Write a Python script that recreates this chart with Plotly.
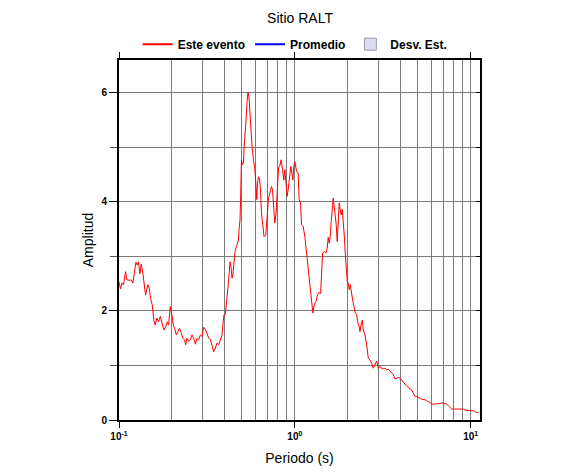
import plotly.graph_objects as go

# Este evento: period (s) and amplitude
periodo = [
    0.1, 0.102, 0.1037, 0.1061, 0.1089, 0.1108, 0.1148, 0.1173, 0.1199, 0.1226,
    0.1247, 0.127, 0.1292, 0.1314, 0.1338, 0.1367, 0.1397, 0.1416, 0.1459, 0.1486,
    0.1511, 0.1545, 0.1578, 0.1607, 0.1641, 0.1679, 0.1717, 0.1762, 0.18, 0.1841,
    0.1882, 0.1914, 0.1957, 0.1999, 0.2036, 0.2071, 0.2118, 0.2163,
    0.2211, 0.2261, 0.2309, 0.2361, 0.2393, 0.2434, 0.2489, 0.2545, 0.2599, 0.2658,
    0.2718, 0.2775, 0.2838, 0.2902, 0.2963, 0.303, 0.3098, 0.3164, 0.3236, 0.3309,
    0.3379, 0.3455, 0.3533, 0.3608, 0.369, 0.3772, 0.3853, 0.3904, 0.3956, 0.4028,
    0.4081, 0.4135, 0.419, 0.4245, 0.4278, 0.4335, 0.4392, 0.445, 0.4509, 0.4569,
    0.4654, 0.4715, 0.4778, 0.4815, 0.4879,
    0.4924, 0.497, 0.5035, 0.5102, 0.5142, 0.521, 0.5279, 0.5349, 0.5419, 0.5491,
    0.5563, 0.5636, 0.5711, 0.5817, 0.5917, 0.6018, 0.6074, 0.613, 0.6211, 0.6293,
    0.6376, 0.646, 0.6571, 0.6684, 0.6836, 0.6954, 0.7082, 0.7204, 0.7367, 0.7464,
    0.7563, 0.7692, 0.7824, 0.7969, 0.8074, 0.8213, 0.8354, 0.8509, 0.8656, 0.877,
    0.8886, 0.904, 0.9159, 0.9328, 0.9489, 0.9614, 0.9741, 0.9869, 1.0,
    1.0226, 1.0442, 1.058, 1.0777, 1.0919, 1.1151, 1.1402, 1.1598, 1.1813, 1.2017,
    1.2224, 1.2451, 1.2665, 1.2883, 1.3174, 1.3469, 1.3703, 1.401, 1.4196, 1.4384,
    1.469, 1.502, 1.5277, 1.5479, 1.5684, 1.5891, 1.6101, 1.6314, 1.653, 1.6748,
    1.697, 1.7194, 1.7421, 1.7651, 1.7885, 1.8121, 1.8361, 1.8603, 1.8849, 1.9098,
    1.9351, 1.9606, 1.9866, 2.0128, 2.0394, 2.0664, 2.0937, 2.1326, 2.1693, 2.2066,
    2.2476, 2.2856, 2.3249,
    2.3464, 2.3775, 2.4184, 2.4504, 2.5057, 2.562, 2.6167, 2.6758, 2.7359, 2.7943,
    2.8571, 2.9213, 2.9832, 3.0503, 3.1189, 3.185, 3.2566, 3.3298, 3.4004, 3.4769,
    3.555, 3.6304, 3.712, 3.7954, 3.8759, 3.9631, 4.0521, 4.138, 4.2311, 4.3262,
    4.4179, 4.5172, 4.6238, 4.7218, 4.8283, 4.9366, 5.0414, 5.1552, 5.2711, 5.3835,
    5.5046, 5.6283, 5.7477, 5.8774, 6.0102, 6.1379, 6.2761, 6.4176, 6.5541, 6.7021,
    6.8535, 6.9987, 7.1568, 7.3182, 7.4733, 7.6421, 7.8147, 7.9803, 8.1603, 8.3447,
    8.5215, 8.714, 8.9108, 9.0995, 9.305, 9.5152, 9.7168, 9.9363, 10.158, 10.375,
    10.607, 10.847, 11.077,
]
amplitud = [
    2.53, 2.40, 2.51, 2.48, 2.72, 2.57, 2.56, 2.57, 2.51, 2.69,
    2.89, 2.84, 2.90, 2.68, 2.86, 2.69, 2.48, 2.29, 2.48, 2.42,
    2.23, 2.11, 1.83, 1.74, 1.87, 1.80, 1.90, 1.77, 1.65, 1.71,
    1.80, 1.74, 2.08, 1.93, 1.74, 1.68, 1.56, 1.62,
    1.68, 1.59, 1.50, 1.47, 1.38, 1.50, 1.44, 1.47, 1.56, 1.50,
    1.39, 1.50, 1.47, 1.56, 1.53, 1.70, 1.66, 1.59, 1.50, 1.48,
    1.35, 1.25, 1.32, 1.41, 1.38, 1.47, 1.56, 1.77, 1.93, 1.94,
    2.11, 2.26, 2.51, 2.75, 2.90, 2.81, 2.60, 2.69, 2.94, 3.09,
    3.18, 3.24, 3.30, 3.49, 3.67,
    4.16, 4.77, 4.68, 4.71, 4.99, 5.20, 5.50, 5.84, 6.01, 5.90,
    5.57, 5.32, 5.01, 4.77, 4.62, 4.28, 4.04, 4.34, 4.46, 4.43,
    4.22, 3.79, 3.49, 3.36, 3.39, 3.67, 4.07, 4.16, 4.28, 4.22,
    3.91, 3.61, 3.79, 4.40, 4.62, 4.66, 4.77, 4.59, 4.40, 4.59,
    4.37, 4.10, 4.22, 4.40, 4.65, 4.53, 4.40, 4.65, 4.74,
    4.56, 4.53, 4.04, 3.98, 3.58, 3.55, 3.36, 3.12, 2.84, 2.63,
    2.39, 2.14, 1.96, 2.11, 2.17, 2.29, 2.34, 2.32, 2.63, 3.06,
    3.09, 3.06, 3.15, 3.35, 3.24, 3.36, 3.64, 3.85, 4.07, 3.91,
    3.76, 3.58, 3.27, 3.79, 3.98, 3.85, 3.76, 3.86, 3.67, 3.39,
    3.06, 2.75, 2.54, 2.51, 2.39, 2.48, 2.32, 2.20, 2.08, 1.96,
    1.93, 1.77, 1.71,
    1.62, 1.74, 1.83, 1.65, 1.56, 1.38, 1.13, 1.10, 1.04, 0.95,
    1.01, 1.08, 0.95, 0.98, 0.95, 0.94, 0.95, 0.92, 0.93, 0.90,
    0.86, 0.83, 0.75, 0.77, 0.78, 0.77, 0.73, 0.68, 0.65, 0.62,
    0.60, 0.58, 0.55, 0.49, 0.43, 0.43, 0.42, 0.40, 0.38, 0.38,
    0.37, 0.35, 0.34, 0.32, 0.29, 0.29, 0.29, 0.30, 0.30, 0.30,
    0.32, 0.30, 0.30, 0.29, 0.26, 0.23, 0.20, 0.20, 0.20, 0.21,
    0.20, 0.20, 0.20, 0.20, 0.18, 0.18, 0.18, 0.17, 0.17, 0.17,
    0.15, 0.14, 0.13,
]

x_major = [0.1, 1, 10]
x_major_text = ["10<sup>-1</sup>", "10<sup>0</sup>", "10<sup>1</sup>"]
x_minor = [0.2, 0.3, 0.4, 0.5, 0.6, 0.7, 0.8, 0.9, 2, 3, 4, 5, 6, 7, 8, 9]
y_major = [0, 2, 4, 6]
y_all = [1, 2, 3, 4, 5, 6]

FONT = "Liberation Sans, Arial, Helvetica, sans-serif"
GRID = "#7a7a7a"
Y_RANGE = [0, 6.6]

fig = go.Figure()
fig.add_trace(go.Scatter(x=periodo, y=amplitud, mode="lines", name="Este evento",
                         showlegend=False, legendgroup="ev",
                         line=dict(color="#ff0000", width=1)))
fig.add_trace(go.Scatter(x=[None], y=[None], mode="lines", name="Este evento",
                         legendgroup="ev", line=dict(color="#ff0000", width=2)))
fig.add_trace(go.Scatter(x=[None], y=[None], mode="lines", name="Promedio",
                         line=dict(color="#0000ff", width=2)))
fig.add_trace(go.Bar(x=[None], y=[None], name="Desv. Est.",
                     marker=dict(color="#dadaf4", line=dict(color="#9a9a9a", width=1))))
fig.add_trace(go.Scatter(x=[None], y=[None], yaxis="y2", showlegend=False,
                         hoverinfo="skip"))

fig.update_layout(
    width=586, height=475,
    margin=dict(l=111, r=114, t=52, b=63, autoexpand=False),
    paper_bgcolor="white", plot_bgcolor="white",
    title=dict(text="Sitio RALT", x=292 / 586, xanchor="center",
               y=1 - 10 / 475, yanchor="middle",
               font=dict(family=FONT, size=14, color="black")),
    showlegend=True,
    legend=dict(orientation="h", x=0.488, xanchor="center", y=1.044, yanchor="middle",
                font=dict(family=FONT, size=12, color="black", weight="bold"),
                bgcolor="rgba(0,0,0,0)", itemwidth=30, tracegroupgap=0),
    yaxis2=dict(overlaying="y", side="right", range=Y_RANGE,
                tickmode="array", tickvals=y_all, ticks="inside", ticklen=4,
                tickcolor="black", showticklabels=False, showgrid=False,
                zeroline=False, showline=False),
)

fig.update_xaxes(
    type="log", range=[-1, 1.053], automargin=False,
    tickmode="array", tickvals=x_major, ticktext=x_major_text,
    ticks="outside", ticklen=6, tickwidth=1, tickcolor="black",
    showgrid=True, gridcolor=GRID, gridwidth=1,
    minor=dict(tickmode="array", tickvals=x_minor, showgrid=True,
               gridcolor=GRID, gridwidth=1, ticks=""),
    showline=True, linecolor="black", linewidth=2, mirror="ticks",
    zeroline=False,
    tickfont=dict(family=FONT, size=10, color="black", weight="bold"),
    title=dict(text="Periodo (s)", font=dict(family=FONT, size=14, color="black"),
               standoff=12),
)
fig.update_yaxes(
    selector=dict(overlaying=None),
    range=Y_RANGE, automargin=False,
    tickmode="array", tickvals=y_major,
    ticks="outside", ticklen=8, tickwidth=1, tickcolor="black",
    showgrid=True, gridcolor=GRID, gridwidth=1,
    minor=dict(dtick=1, showgrid=True, gridcolor=GRID, gridwidth=1,
               ticks="outside", ticklen=7, tickcolor="#555555"),
    showline=True, linecolor="black", linewidth=2, mirror=True,
    zeroline=False,
    tickfont=dict(family=FONT, size=10, color="black", weight="bold"),
    title=dict(text="Amplitud", font=dict(family=FONT, size=14, color="black"),
               standoff=5),
)

fig.write_html("out.html")
